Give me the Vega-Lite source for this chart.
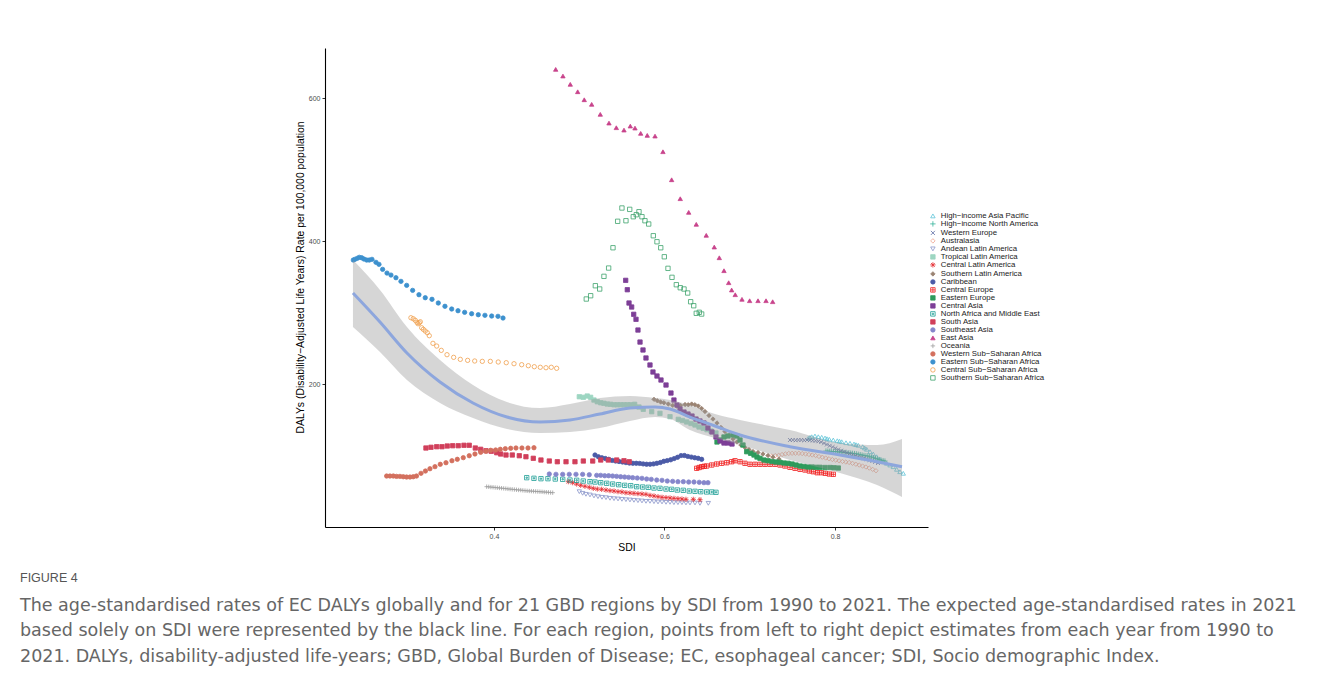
{
"$schema":"https://vega.github.io/schema/vega-lite/v6.json",
"width":603,"height":479,
"autosize":{"type":"none"},
"padding":{"left":325,"top":48,"right":394,"bottom":153},
"background":"white",
"config":{
 "view":{"stroke":null},
 "font":"Liberation Sans",
 "axis":{"grid":false,"domainColor":"#000","domainWidth":1.1,"tickColor":"#333","tickSize":3,"tickWidth":1,"labelFontSize":7,"labelColor":"#4D4D4D","labelFont":"Liberation Sans","titleFont":"Liberation Sans","titleFontSize":10.4,"titleFontWeight":"normal","titleColor":"#000","labelPadding":2},
 "legend":{"orient":"none","legendX":604,"legendY":164,"labelFontSize":7.8,"labelColor":"#1a1a1a","labelFont":"Liberation Sans","symbolStrokeWidth":0.8,"symbolSize":20,"rowPadding":-1.2,"padding":0,"labelOffset":4,"labelLimit":300}
},
"title":{"text":"FIGURE 4","subtitle":["The age-standardised rates of EC DALYs globally and for 21 GBD regions by SDI from 1990 to 2021. The expected age-standardised rates in 2021","based solely on SDI were represented by the black line. For each region, points from left to right depict estimates from each year from 1990 to","2021. DALYs, disability-adjusted life-years; GBD, Global Burden of Disease; EC, esophageal cancer; SDI, Socio demographic Index."],"orient":"bottom","anchor":"start","frame":"group","dx":-305,"offset":20,"fontSize":12.5,"font":"Liberation Sans","fontWeight":"normal","color":"#555555","subtitleFont":"DejaVu Sans","subtitleFontSize":17.5,"subtitleColor":"#666666","subtitleLineHeight":25.5,"subtitlePadding":12},
"datasets":{
"smooth":[
{"sdi":0.2346,"fit":327.3,"lo":279.7,"hi":373.4},
{"sdi":0.2663,"fit":286.7,"lo":244.8,"hi":331.5},
{"sdi":0.2979,"fit":243.4,"lo":205.6,"hi":279.7},
{"sdi":0.3367,"fit":202.8,"lo":173.4,"hi":233.6},
{"sdi":0.3754,"fit":173.4,"lo":152.4,"hi":198.6},
{"sdi":0.4152,"fit":153.8,"lo":137.1,"hi":174.8},
{"sdi":0.454,"fit":146.9,"lo":131.5,"hi":166.4},
{"sdi":0.4892,"fit":149.7,"lo":132.9,"hi":172.0},
{"sdi":0.5243,"fit":158.0,"lo":138.5,"hi":180.4},
{"sdi":0.5595,"fit":166.4,"lo":148.3,"hi":183.2},
{"sdi":0.5889,"fit":167.8,"lo":153.8,"hi":180.4},
{"sdi":0.6065,"fit":165.0,"lo":151.0,"hi":177.6},
{"sdi":0.6299,"fit":153.8,"lo":135.7,"hi":170.6},
{"sdi":0.6592,"fit":141.3,"lo":124.5,"hi":158.0},
{"sdi":0.6886,"fit":128.7,"lo":114.7,"hi":149.7},
{"sdi":0.7472,"fit":112.3,"lo":93.7,"hi":135.7},
{"sdi":0.8059,"fit":100.7,"lo":75.5,"hi":117.5},
{"sdi":0.8493,"fit":91.3,"lo":58.7,"hi":114.7},
{"sdi":0.8786,"fit":84.3,"lo":42.0,"hi":123.1}
],
"pts":[
{"region":"High−income Asia Pacific","sdi":0.7687,"rate":124.1},{"region":"High−income Asia Pacific","sdi":0.7707,"rate":125.2},{"region":"High−income Asia Pacific","sdi":0.7727,"rate":126.3},{"region":"High−income Asia Pacific","sdi":0.7765,"rate":127.3},{"region":"High−income Asia Pacific","sdi":0.7804,"rate":126.3},{"region":"High−income Asia Pacific","sdi":0.7844,"rate":125.5},{"region":"High−income Asia Pacific","sdi":0.7883,"rate":124.5},{"region":"High−income Asia Pacific","sdi":0.7906,"rate":123.5},{"region":"High−income Asia Pacific","sdi":0.7933,"rate":122.7},{"region":"High−income Asia Pacific","sdi":0.798,"rate":121.7},{"region":"High−income Asia Pacific","sdi":0.8027,"rate":120.7},{"region":"High−income Asia Pacific","sdi":0.8053,"rate":120.0},{"region":"High−income Asia Pacific","sdi":0.8079,"rate":119.3},{"region":"High−income Asia Pacific","sdi":0.8129,"rate":117.9},{"region":"High−income Asia Pacific","sdi":0.8176,"rate":117.1},{"region":"High−income Asia Pacific","sdi":0.8223,"rate":116.1},{"region":"High−income Asia Pacific","sdi":0.8246,"rate":115.2},{"region":"High−income Asia Pacific","sdi":0.8273,"rate":114.3},{"region":"High−income Asia Pacific","sdi":0.8325,"rate":112.3},{"region":"High−income Asia Pacific","sdi":0.8348,"rate":110.5},{"region":"High−income Asia Pacific","sdi":0.8372,"rate":108.7},{"region":"High−income Asia Pacific","sdi":0.8411,"rate":105.3},{"region":"High−income Asia Pacific","sdi":0.8449,"rate":102.1},{"region":"High−income Asia Pacific","sdi":0.8489,"rate":98.3},{"region":"High−income Asia Pacific","sdi":0.8528,"rate":94.7},{"region":"High−income Asia Pacific","sdi":0.8567,"rate":91.3},{"region":"High−income Asia Pacific","sdi":0.8606,"rate":89.1},{"region":"High−income Asia Pacific","sdi":0.8645,"rate":86.7},{"region":"High−income Asia Pacific","sdi":0.8684,"rate":84.3},{"region":"High−income Asia Pacific","sdi":0.8724,"rate":80.7},{"region":"High−income Asia Pacific","sdi":0.8762,"rate":77.3},{"region":"High−income Asia Pacific","sdi":0.8801,"rate":75.1},
{"region":"High−income North America","sdi":0.7894,"rate":106.3},{"region":"High−income North America","sdi":0.7916,"rate":106.1},{"region":"High−income North America","sdi":0.7938,"rate":106.0},{"region":"High−income North America","sdi":0.7961,"rate":105.7},{"region":"High−income North America","sdi":0.7983,"rate":105.6},{"region":"High−income North America","sdi":0.8006,"rate":105.4},{"region":"High−income North America","sdi":0.8028,"rate":105.2},{"region":"High−income North America","sdi":0.805,"rate":105.0},{"region":"High−income North America","sdi":0.8073,"rate":104.8},{"region":"High−income North America","sdi":0.8095,"rate":104.5},{"region":"High−income North America","sdi":0.8117,"rate":104.2},{"region":"High−income North America","sdi":0.8139,"rate":103.9},{"region":"High−income North America","sdi":0.8162,"rate":103.6},{"region":"High−income North America","sdi":0.8184,"rate":103.4},{"region":"High−income North America","sdi":0.8206,"rate":103.1},{"region":"High−income North America","sdi":0.8229,"rate":102.8},{"region":"High−income North America","sdi":0.8251,"rate":102.4},{"region":"High−income North America","sdi":0.8273,"rate":101.8},{"region":"High−income North America","sdi":0.8296,"rate":101.3},{"region":"High−income North America","sdi":0.8318,"rate":100.7},{"region":"High−income North America","sdi":0.834,"rate":100.1},{"region":"High−income North America","sdi":0.8363,"rate":99.7},{"region":"High−income North America","sdi":0.8385,"rate":99.3},{"region":"High−income North America","sdi":0.8407,"rate":98.5},{"region":"High−income North America","sdi":0.843,"rate":97.6},{"region":"High−income North America","sdi":0.8452,"rate":96.9},{"region":"High−income North America","sdi":0.8474,"rate":96.1},{"region":"High−income North America","sdi":0.8497,"rate":95.2},{"region":"High−income North America","sdi":0.8519,"rate":94.4},{"region":"High−income North America","sdi":0.8541,"rate":93.6},{"region":"High−income North America","sdi":0.8564,"rate":92.9},{"region":"High−income North America","sdi":0.8586,"rate":92.3},
{"region":"Western Europe","sdi":0.7472,"rate":121.7},{"region":"Western Europe","sdi":0.7505,"rate":121.7},{"region":"Western Europe","sdi":0.7539,"rate":121.3},{"region":"Western Europe","sdi":0.7572,"rate":121.7},{"region":"Western Europe","sdi":0.7605,"rate":121.7},{"region":"Western Europe","sdi":0.7639,"rate":121.3},{"region":"Western Europe","sdi":0.7672,"rate":121.7},{"region":"Western Europe","sdi":0.7705,"rate":121.3},{"region":"Western Europe","sdi":0.7739,"rate":121.0},{"region":"Western Europe","sdi":0.7772,"rate":120.6},{"region":"Western Europe","sdi":0.7805,"rate":119.9},{"region":"Western Europe","sdi":0.7838,"rate":118.9},{"region":"Western Europe","sdi":0.7872,"rate":117.1},{"region":"Western Europe","sdi":0.7905,"rate":115.4},{"region":"Western Europe","sdi":0.7938,"rate":113.6},{"region":"Western Europe","sdi":0.7972,"rate":111.9},{"region":"Western Europe","sdi":0.8005,"rate":110.1},{"region":"Western Europe","sdi":0.8038,"rate":108.4},{"region":"Western Europe","sdi":0.8072,"rate":106.7},{"region":"Western Europe","sdi":0.8105,"rate":105.3},{"region":"Western Europe","sdi":0.8138,"rate":103.9},{"region":"Western Europe","sdi":0.8171,"rate":102.4},{"region":"Western Europe","sdi":0.8205,"rate":101.0},{"region":"Western Europe","sdi":0.8238,"rate":99.6},{"region":"Western Europe","sdi":0.8271,"rate":98.3},{"region":"Western Europe","sdi":0.8305,"rate":97.2},{"region":"Western Europe","sdi":0.8338,"rate":96.1},{"region":"Western Europe","sdi":0.8371,"rate":95.0},{"region":"Western Europe","sdi":0.8404,"rate":93.8},{"region":"Western Europe","sdi":0.8438,"rate":92.6},{"region":"Western Europe","sdi":0.8471,"rate":91.0},{"region":"Western Europe","sdi":0.8504,"rate":89.5},
{"region":"Australasia","sdi":0.7261,"rate":99.3},{"region":"Australasia","sdi":0.73,"rate":99.9},{"region":"Australasia","sdi":0.734,"rate":100.3},{"region":"Australasia","sdi":0.7379,"rate":101.4},{"region":"Australasia","sdi":0.7418,"rate":102.2},{"region":"Australasia","sdi":0.7458,"rate":102.9},{"region":"Australasia","sdi":0.7497,"rate":103.1},{"region":"Australasia","sdi":0.7536,"rate":103.1},{"region":"Australasia","sdi":0.7576,"rate":103.1},{"region":"Australasia","sdi":0.7615,"rate":102.7},{"region":"Australasia","sdi":0.7655,"rate":102.1},{"region":"Australasia","sdi":0.7694,"rate":101.4},{"region":"Australasia","sdi":0.7733,"rate":100.7},{"region":"Australasia","sdi":0.7773,"rate":99.9},{"region":"Australasia","sdi":0.7812,"rate":98.6},{"region":"Australasia","sdi":0.7851,"rate":97.6},{"region":"Australasia","sdi":0.7891,"rate":96.5},{"region":"Australasia","sdi":0.793,"rate":95.4},{"region":"Australasia","sdi":0.7969,"rate":94.4},{"region":"Australasia","sdi":0.8009,"rate":93.6},{"region":"Australasia","sdi":0.8048,"rate":92.6},{"region":"Australasia","sdi":0.8087,"rate":91.7},{"region":"Australasia","sdi":0.8127,"rate":90.9},{"region":"Australasia","sdi":0.8166,"rate":90.2},{"region":"Australasia","sdi":0.8205,"rate":89.1},{"region":"Australasia","sdi":0.8245,"rate":87.8},{"region":"Australasia","sdi":0.8284,"rate":86.6},{"region":"Australasia","sdi":0.8323,"rate":85.3},{"region":"Australasia","sdi":0.8363,"rate":83.9},{"region":"Australasia","sdi":0.8402,"rate":82.4},{"region":"Australasia","sdi":0.8442,"rate":80.6},{"region":"Australasia","sdi":0.8481,"rate":78.7},
{"region":"Andean Latin America","sdi":0.5001,"rate":49.4},{"region":"Andean Latin America","sdi":0.504,"rate":47.1},{"region":"Andean Latin America","sdi":0.5079,"rate":45.7},{"region":"Andean Latin America","sdi":0.5126,"rate":44.8},{"region":"Andean Latin America","sdi":0.5173,"rate":43.4},{"region":"Andean Latin America","sdi":0.522,"rate":42.4},{"region":"Andean Latin America","sdi":0.5267,"rate":41.5},{"region":"Andean Latin America","sdi":0.5314,"rate":41.0},{"region":"Andean Latin America","sdi":0.5361,"rate":40.1},{"region":"Andean Latin America","sdi":0.5408,"rate":39.6},{"region":"Andean Latin America","sdi":0.5455,"rate":39.2},{"region":"Andean Latin America","sdi":0.5501,"rate":38.7},{"region":"Andean Latin America","sdi":0.5548,"rate":38.2},{"region":"Andean Latin America","sdi":0.5595,"rate":37.8},{"region":"Andean Latin America","sdi":0.5642,"rate":37.3},{"region":"Andean Latin America","sdi":0.5689,"rate":36.8},{"region":"Andean Latin America","sdi":0.5736,"rate":36.4},{"region":"Andean Latin America","sdi":0.5783,"rate":35.9},{"region":"Andean Latin America","sdi":0.583,"rate":35.9},{"region":"Andean Latin America","sdi":0.5877,"rate":35.4},{"region":"Andean Latin America","sdi":0.5924,"rate":35.0},{"region":"Andean Latin America","sdi":0.5971,"rate":35.0},{"region":"Andean Latin America","sdi":0.6018,"rate":34.5},{"region":"Andean Latin America","sdi":0.6065,"rate":34.5},{"region":"Andean Latin America","sdi":0.6111,"rate":34.0},{"region":"Andean Latin America","sdi":0.6158,"rate":34.0},{"region":"Andean Latin America","sdi":0.6205,"rate":34.0},{"region":"Andean Latin America","sdi":0.6252,"rate":33.6},{"region":"Andean Latin America","sdi":0.6299,"rate":33.6},{"region":"Andean Latin America","sdi":0.6358,"rate":33.6},{"region":"Andean Latin America","sdi":0.6416,"rate":33.1},{"region":"Andean Latin America","sdi":0.6514,"rate":33.1},
{"region":"Tropical Latin America","sdi":0.5001,"rate":182.2},{"region":"Tropical Latin America","sdi":0.5048,"rate":181.4},{"region":"Tropical Latin America","sdi":0.5094,"rate":183.2},{"region":"Tropical Latin America","sdi":0.5134,"rate":181.4},{"region":"Tropical Latin America","sdi":0.5173,"rate":177.6},{"region":"Tropical Latin America","sdi":0.5212,"rate":175.2},{"region":"Tropical Latin America","sdi":0.5252,"rate":173.8},{"region":"Tropical Latin America","sdi":0.529,"rate":173.0},{"region":"Tropical Latin America","sdi":0.5329,"rate":172.0},{"region":"Tropical Latin America","sdi":0.5369,"rate":171.6},{"region":"Tropical Latin America","sdi":0.5408,"rate":171.0},{"region":"Tropical Latin America","sdi":0.5446,"rate":171.0},{"region":"Tropical Latin America","sdi":0.5486,"rate":171.0},{"region":"Tropical Latin America","sdi":0.5525,"rate":171.0},{"region":"Tropical Latin America","sdi":0.5564,"rate":171.0},{"region":"Tropical Latin America","sdi":0.5604,"rate":171.0},{"region":"Tropical Latin America","sdi":0.565,"rate":171.6},{"region":"Tropical Latin America","sdi":0.5701,"rate":167.8},{"region":"Tropical Latin America","sdi":0.5751,"rate":164.6},{"region":"Tropical Latin America","sdi":0.585,"rate":161.3},{"region":"Tropical Latin America","sdi":0.5947,"rate":159.0},{"region":"Tropical Latin America","sdi":0.6065,"rate":154.3},{"region":"Tropical Latin America","sdi":0.6162,"rate":150.6},{"region":"Tropical Latin America","sdi":0.6211,"rate":149.0},{"region":"Tropical Latin America","sdi":0.626,"rate":146.9},{"region":"Tropical Latin America","sdi":0.6311,"rate":144.8},{"region":"Tropical Latin America","sdi":0.6358,"rate":142.7},{"region":"Tropical Latin America","sdi":0.6405,"rate":139.9},{"region":"Tropical Latin America","sdi":0.6455,"rate":138.0},{"region":"Tropical Latin America","sdi":0.6499,"rate":136.1},{"region":"Tropical Latin America","sdi":0.6545,"rate":134.3},{"region":"Tropical Latin America","sdi":0.6604,"rate":131.5},
{"region":"Central Latin America","sdi":0.4872,"rate":63.4},{"region":"Central Latin America","sdi":0.4923,"rate":62.0},{"region":"Central Latin America","sdi":0.497,"rate":60.1},{"region":"Central Latin America","sdi":0.5017,"rate":58.3},{"region":"Central Latin America","sdi":0.5067,"rate":56.9},{"region":"Central Latin America","sdi":0.5118,"rate":55.5},{"region":"Central Latin America","sdi":0.5165,"rate":54.1},{"region":"Central Latin America","sdi":0.5212,"rate":53.1},{"region":"Central Latin America","sdi":0.5263,"rate":52.7},{"region":"Central Latin America","sdi":0.5314,"rate":51.7},{"region":"Central Latin America","sdi":0.5361,"rate":50.8},{"region":"Central Latin America","sdi":0.5408,"rate":50.3},{"region":"Central Latin America","sdi":0.5455,"rate":49.4},{"region":"Central Latin America","sdi":0.5501,"rate":49.0},{"region":"Central Latin America","sdi":0.5548,"rate":48.0},{"region":"Central Latin America","sdi":0.5595,"rate":47.6},{"region":"Central Latin America","sdi":0.5642,"rate":47.1},{"region":"Central Latin America","sdi":0.5689,"rate":46.6},{"region":"Central Latin America","sdi":0.5736,"rate":46.2},{"region":"Central Latin America","sdi":0.5783,"rate":45.7},{"region":"Central Latin America","sdi":0.583,"rate":44.3},{"region":"Central Latin America","sdi":0.5877,"rate":43.4},{"region":"Central Latin America","sdi":0.5924,"rate":42.4},{"region":"Central Latin America","sdi":0.5971,"rate":41.5},{"region":"Central Latin America","sdi":0.6018,"rate":41.1},{"region":"Central Latin America","sdi":0.6065,"rate":40.6},{"region":"Central Latin America","sdi":0.6111,"rate":40.1},{"region":"Central Latin America","sdi":0.6158,"rate":39.6},{"region":"Central Latin America","sdi":0.6205,"rate":39.2},{"region":"Central Latin America","sdi":0.6252,"rate":38.7},{"region":"Central Latin America","sdi":0.6338,"rate":38.7},{"region":"Central Latin America","sdi":0.6416,"rate":38.2},
{"region":"Southern Latin America","sdi":0.5877,"rate":178.6},{"region":"Southern Latin America","sdi":0.5916,"rate":176.6},{"region":"Southern Latin America","sdi":0.5955,"rate":174.8},{"region":"Southern Latin America","sdi":0.5994,"rate":173.8},{"region":"Southern Latin America","sdi":0.6045,"rate":172.0},{"region":"Southern Latin America","sdi":0.6096,"rate":170.2},{"region":"Southern Latin America","sdi":0.6143,"rate":169.2},{"region":"Southern Latin America","sdi":0.619,"rate":169.9},{"region":"Southern Latin America","sdi":0.6241,"rate":171.3},{"region":"Southern Latin America","sdi":0.6279,"rate":171.0},{"region":"Southern Latin America","sdi":0.6319,"rate":172.0},{"region":"Southern Latin America","sdi":0.6358,"rate":171.0},{"region":"Southern Latin America","sdi":0.6397,"rate":169.2},{"region":"Southern Latin America","sdi":0.6436,"rate":165.7},{"region":"Southern Latin America","sdi":0.6475,"rate":161.5},{"region":"Southern Latin America","sdi":0.6522,"rate":155.9},{"region":"Southern Latin America","sdi":0.6569,"rate":151.0},{"region":"Southern Latin America","sdi":0.6616,"rate":145.5},{"region":"Southern Latin America","sdi":0.6663,"rate":139.2},{"region":"Southern Latin America","sdi":0.671,"rate":133.5},{"region":"Southern Latin America","sdi":0.6757,"rate":128.0},{"region":"Southern Latin America","sdi":0.6804,"rate":123.1},{"region":"Southern Latin America","sdi":0.685,"rate":118.9},{"region":"Southern Latin America","sdi":0.6897,"rate":114.7},{"region":"Southern Latin America","sdi":0.6944,"rate":111.2},{"region":"Southern Latin America","sdi":0.6991,"rate":108.4},{"region":"Southern Latin America","sdi":0.7038,"rate":105.6},{"region":"Southern Latin America","sdi":0.7097,"rate":104.2},{"region":"Southern Latin America","sdi":0.7155,"rate":102.1},{"region":"Southern Latin America","sdi":0.7214,"rate":100.0},{"region":"Southern Latin America","sdi":0.7273,"rate":97.9},{"region":"Southern Latin America","sdi":0.7343,"rate":95.1},
{"region":"Caribbean","sdi":0.5185,"rate":100.7},{"region":"Caribbean","sdi":0.5225,"rate":98.2},{"region":"Caribbean","sdi":0.5266,"rate":96.8},{"region":"Caribbean","sdi":0.5306,"rate":95.8},{"region":"Caribbean","sdi":0.5346,"rate":94.7},{"region":"Caribbean","sdi":0.5387,"rate":93.1},{"region":"Caribbean","sdi":0.5427,"rate":92.3},{"region":"Caribbean","sdi":0.5467,"rate":91.6},{"region":"Caribbean","sdi":0.5508,"rate":90.9},{"region":"Caribbean","sdi":0.5548,"rate":90.1},{"region":"Caribbean","sdi":0.5589,"rate":89.4},{"region":"Caribbean","sdi":0.5629,"rate":89.1},{"region":"Caribbean","sdi":0.5669,"rate":89.1},{"region":"Caribbean","sdi":0.571,"rate":88.9},{"region":"Caribbean","sdi":0.575,"rate":88.2},{"region":"Caribbean","sdi":0.579,"rate":87.8},{"region":"Caribbean","sdi":0.5831,"rate":87.8},{"region":"Caribbean","sdi":0.5871,"rate":88.2},{"region":"Caribbean","sdi":0.5911,"rate":89.1},{"region":"Caribbean","sdi":0.5952,"rate":90.2},{"region":"Caribbean","sdi":0.5992,"rate":91.9},{"region":"Caribbean","sdi":0.6032,"rate":92.9},{"region":"Caribbean","sdi":0.6073,"rate":94.0},{"region":"Caribbean","sdi":0.6113,"rate":95.7},{"region":"Caribbean","sdi":0.6153,"rate":97.5},{"region":"Caribbean","sdi":0.6194,"rate":99.9},{"region":"Caribbean","sdi":0.6234,"rate":100.0},{"region":"Caribbean","sdi":0.6274,"rate":98.7},{"region":"Caribbean","sdi":0.6315,"rate":97.8},{"region":"Caribbean","sdi":0.6355,"rate":96.9},{"region":"Caribbean","sdi":0.6395,"rate":96.1},{"region":"Caribbean","sdi":0.6436,"rate":94.7},
{"region":"Central Europe","sdi":0.6378,"rate":82.1},{"region":"Central Europe","sdi":0.6407,"rate":83.2},{"region":"Central Europe","sdi":0.6436,"rate":84.3},{"region":"Central Europe","sdi":0.6466,"rate":84.9},{"region":"Central Europe","sdi":0.6495,"rate":85.3},{"region":"Central Europe","sdi":0.6554,"rate":86.7},{"region":"Central Europe","sdi":0.6612,"rate":88.1},{"region":"Central Europe","sdi":0.6671,"rate":89.1},{"region":"Central Europe","sdi":0.673,"rate":89.9},{"region":"Central Europe","sdi":0.6788,"rate":91.3},{"region":"Central Europe","sdi":0.6827,"rate":92.7},{"region":"Central Europe","sdi":0.6886,"rate":91.3},{"region":"Central Europe","sdi":0.6944,"rate":89.1},{"region":"Central Europe","sdi":0.7003,"rate":87.7},{"region":"Central Europe","sdi":0.7062,"rate":87.7},{"region":"Central Europe","sdi":0.712,"rate":87.7},{"region":"Central Europe","sdi":0.7179,"rate":87.7},{"region":"Central Europe","sdi":0.7238,"rate":87.7},{"region":"Central Europe","sdi":0.7296,"rate":87.7},{"region":"Central Europe","sdi":0.7355,"rate":86.7},{"region":"Central Europe","sdi":0.7413,"rate":85.3},{"region":"Central Europe","sdi":0.7472,"rate":83.5},{"region":"Central Europe","sdi":0.7531,"rate":82.1},{"region":"Central Europe","sdi":0.759,"rate":80.7},{"region":"Central Europe","sdi":0.7648,"rate":79.7},{"region":"Central Europe","sdi":0.7699,"rate":78.3},{"region":"Central Europe","sdi":0.7745,"rate":77.3},{"region":"Central Europe","sdi":0.7792,"rate":75.9},{"region":"Central Europe","sdi":0.7839,"rate":75.9},{"region":"Central Europe","sdi":0.7886,"rate":75.1},{"region":"Central Europe","sdi":0.7933,"rate":74.1},{"region":"Central Europe","sdi":0.798,"rate":73.7},
{"region":"Eastern Europe","sdi":0.6616,"rate":118.9},{"region":"Eastern Europe","sdi":0.6651,"rate":121.7},{"region":"Eastern Europe","sdi":0.6698,"rate":125.9},{"region":"Eastern Europe","sdi":0.6745,"rate":127.3},{"region":"Eastern Europe","sdi":0.6804,"rate":128.7},{"region":"Eastern Europe","sdi":0.685,"rate":127.3},{"region":"Eastern Europe","sdi":0.6886,"rate":121.7},{"region":"Eastern Europe","sdi":0.6921,"rate":114.7},{"region":"Eastern Europe","sdi":0.6964,"rate":105.3},{"region":"Eastern Europe","sdi":0.7011,"rate":103.1},{"region":"Eastern Europe","sdi":0.705,"rate":100.7},{"region":"Eastern Europe","sdi":0.7085,"rate":97.9},{"region":"Eastern Europe","sdi":0.712,"rate":96.1},{"region":"Eastern Europe","sdi":0.7167,"rate":93.7},{"region":"Eastern Europe","sdi":0.7214,"rate":92.7},{"region":"Eastern Europe","sdi":0.7261,"rate":91.6},{"region":"Eastern Europe","sdi":0.7308,"rate":90.9},{"region":"Eastern Europe","sdi":0.7355,"rate":90.5},{"region":"Eastern Europe","sdi":0.7402,"rate":89.5},{"region":"Eastern Europe","sdi":0.7449,"rate":89.1},{"region":"Eastern Europe","sdi":0.7496,"rate":88.1},{"region":"Eastern Europe","sdi":0.7543,"rate":86.7},{"region":"Eastern Europe","sdi":0.759,"rate":85.3},{"region":"Eastern Europe","sdi":0.7636,"rate":84.6},{"region":"Eastern Europe","sdi":0.7683,"rate":83.9},{"region":"Eastern Europe","sdi":0.773,"rate":83.9},{"region":"Eastern Europe","sdi":0.7777,"rate":83.5},{"region":"Eastern Europe","sdi":0.7824,"rate":83.5},{"region":"Eastern Europe","sdi":0.7883,"rate":83.2},{"region":"Eastern Europe","sdi":0.7941,"rate":83.2},{"region":"Eastern Europe","sdi":0.7988,"rate":82.9},{"region":"Eastern Europe","sdi":0.8039,"rate":82.5},
{"region":"Central Asia","sdi":0.5545,"rate":345.0},{"region":"Central Asia","sdi":0.5564,"rate":331.9},{"region":"Central Asia","sdi":0.5584,"rate":313.3},{"region":"Central Asia","sdi":0.5615,"rate":307.7},{"region":"Central Asia","sdi":0.5639,"rate":297.5},{"region":"Central Asia","sdi":0.5666,"rate":290.5},{"region":"Central Asia","sdi":0.5689,"rate":275.5},{"region":"Central Asia","sdi":0.5713,"rate":258.7},{"region":"Central Asia","sdi":0.5748,"rate":247.6},{"region":"Central Asia","sdi":0.5783,"rate":236.4},{"region":"Central Asia","sdi":0.583,"rate":226.6},{"region":"Central Asia","sdi":0.5865,"rate":216.8},{"region":"Central Asia","sdi":0.5912,"rate":211.2},{"region":"Central Asia","sdi":0.5959,"rate":205.6},{"region":"Central Asia","sdi":0.6018,"rate":198.6},{"region":"Central Asia","sdi":0.6076,"rate":187.4},{"region":"Central Asia","sdi":0.6111,"rate":177.6},{"region":"Central Asia","sdi":0.6147,"rate":170.6},{"region":"Central Asia","sdi":0.6182,"rate":165.0},{"region":"Central Asia","sdi":0.6229,"rate":160.8},{"region":"Central Asia","sdi":0.6276,"rate":158.0},{"region":"Central Asia","sdi":0.6323,"rate":155.2},{"region":"Central Asia","sdi":0.637,"rate":151.0},{"region":"Central Asia","sdi":0.6416,"rate":148.3},{"region":"Central Asia","sdi":0.6463,"rate":145.5},{"region":"Central Asia","sdi":0.651,"rate":138.5},{"region":"Central Asia","sdi":0.6557,"rate":132.9},{"region":"Central Asia","sdi":0.6604,"rate":125.9},{"region":"Central Asia","sdi":0.6651,"rate":120.3},{"region":"Central Asia","sdi":0.6698,"rate":117.5},{"region":"Central Asia","sdi":0.6745,"rate":117.5},{"region":"Central Asia","sdi":0.6792,"rate":116.1},
{"region":"North Africa and Middle East","sdi":0.4384,"rate":69.0},{"region":"North Africa and Middle East","sdi":0.4469,"rate":68.1},{"region":"North Africa and Middle East","sdi":0.4551,"rate":67.6},{"region":"North Africa and Middle East","sdi":0.4633,"rate":67.6},{"region":"North Africa and Middle East","sdi":0.4719,"rate":67.1},{"region":"North Africa and Middle East","sdi":0.4806,"rate":66.7},{"region":"North Africa and Middle East","sdi":0.4891,"rate":65.7},{"region":"North Africa and Middle East","sdi":0.497,"rate":65.3},{"region":"North Africa and Middle East","sdi":0.5047,"rate":64.3},{"region":"North Africa and Middle East","sdi":0.5126,"rate":63.4},{"region":"North Africa and Middle East","sdi":0.5185,"rate":62.9},{"region":"North Africa and Middle East","sdi":0.5252,"rate":62.0},{"region":"North Africa and Middle East","sdi":0.5322,"rate":61.1},{"region":"North Africa and Middle East","sdi":0.5392,"rate":60.1},{"region":"North Africa and Middle East","sdi":0.5463,"rate":59.2},{"region":"North Africa and Middle East","sdi":0.5533,"rate":58.3},{"region":"North Africa and Middle East","sdi":0.5604,"rate":57.8},{"region":"North Africa and Middle East","sdi":0.5674,"rate":56.4},{"region":"North Africa and Middle East","sdi":0.5744,"rate":55.9},{"region":"North Africa and Middle East","sdi":0.581,"rate":55.5},{"region":"North Africa and Middle East","sdi":0.5877,"rate":54.5},{"region":"North Africa and Middle East","sdi":0.5947,"rate":54.1},{"region":"North Africa and Middle East","sdi":0.6018,"rate":53.1},{"region":"North Africa and Middle East","sdi":0.6084,"rate":52.7},{"region":"North Africa and Middle East","sdi":0.615,"rate":51.7},{"region":"North Africa and Middle East","sdi":0.622,"rate":51.3},{"region":"North Africa and Middle East","sdi":0.6291,"rate":50.3},{"region":"North Africa and Middle East","sdi":0.6358,"rate":49.9},{"region":"North Africa and Middle East","sdi":0.6425,"rate":49.4},{"region":"North Africa and Middle East","sdi":0.6495,"rate":49.0},{"region":"North Africa and Middle East","sdi":0.6554,"rate":49.0},{"region":"North Africa and Middle East","sdi":0.6604,"rate":48.5},
{"region":"South Asia","sdi":0.3202,"rate":110.5},{"region":"South Asia","sdi":0.3261,"rate":111.5},{"region":"South Asia","sdi":0.3328,"rate":112.3},{"region":"South Asia","sdi":0.339,"rate":112.3},{"region":"South Asia","sdi":0.3452,"rate":113.3},{"region":"South Asia","sdi":0.3516,"rate":113.7},{"region":"South Asia","sdi":0.3581,"rate":113.7},{"region":"South Asia","sdi":0.3648,"rate":114.3},{"region":"South Asia","sdi":0.371,"rate":114.3},{"region":"South Asia","sdi":0.3781,"rate":110.5},{"region":"South Asia","sdi":0.3844,"rate":108.7},{"region":"South Asia","sdi":0.3906,"rate":106.7},{"region":"South Asia","sdi":0.3968,"rate":105.9},{"region":"South Asia","sdi":0.4032,"rate":103.9},{"region":"South Asia","sdi":0.4079,"rate":102.1},{"region":"South Asia","sdi":0.4141,"rate":100.7},{"region":"South Asia","sdi":0.4215,"rate":100.7},{"region":"South Asia","sdi":0.4297,"rate":99.7},{"region":"South Asia","sdi":0.4375,"rate":98.3},{"region":"South Asia","sdi":0.4461,"rate":96.1},{"region":"South Asia","sdi":0.4551,"rate":93.7},{"region":"South Asia","sdi":0.4649,"rate":92.3},{"region":"South Asia","sdi":0.4743,"rate":91.3},{"region":"South Asia","sdi":0.4845,"rate":91.3},{"region":"South Asia","sdi":0.495,"rate":91.3},{"region":"South Asia","sdi":0.5048,"rate":92.3},{"region":"South Asia","sdi":0.5158,"rate":92.3},{"region":"South Asia","sdi":0.5252,"rate":93.7},{"region":"South Asia","sdi":0.5341,"rate":93.7},{"region":"South Asia","sdi":0.5439,"rate":93.7},{"region":"South Asia","sdi":0.5525,"rate":92.7},{"region":"South Asia","sdi":0.5587,"rate":91.3},
{"region":"Southeast Asia","sdi":0.4649,"rate":74.1},{"region":"Southeast Asia","sdi":0.4727,"rate":73.7},{"region":"Southeast Asia","sdi":0.4806,"rate":73.7},{"region":"Southeast Asia","sdi":0.4883,"rate":73.7},{"region":"Southeast Asia","sdi":0.4962,"rate":73.7},{"region":"Southeast Asia","sdi":0.504,"rate":73.7},{"region":"Southeast Asia","sdi":0.5118,"rate":73.1},{"region":"Southeast Asia","sdi":0.5205,"rate":72.3},{"region":"Southeast Asia","sdi":0.5252,"rate":72.3},{"region":"Southeast Asia","sdi":0.5299,"rate":71.7},{"region":"Southeast Asia","sdi":0.5345,"rate":71.7},{"region":"Southeast Asia","sdi":0.5392,"rate":71.3},{"region":"Southeast Asia","sdi":0.5439,"rate":70.9},{"region":"Southeast Asia","sdi":0.5486,"rate":70.3},{"region":"Southeast Asia","sdi":0.5533,"rate":69.9},{"region":"Southeast Asia","sdi":0.558,"rate":69.5},{"region":"Southeast Asia","sdi":0.5627,"rate":69.0},{"region":"Southeast Asia","sdi":0.5681,"rate":68.5},{"region":"Southeast Asia","sdi":0.5736,"rate":68.1},{"region":"Southeast Asia","sdi":0.5791,"rate":67.1},{"region":"Southeast Asia","sdi":0.5845,"rate":66.7},{"region":"Southeast Asia","sdi":0.5909,"rate":65.7},{"region":"Southeast Asia","sdi":0.5971,"rate":65.3},{"region":"Southeast Asia","sdi":0.6033,"rate":64.3},{"region":"Southeast Asia","sdi":0.6096,"rate":63.9},{"region":"Southeast Asia","sdi":0.6158,"rate":63.4},{"region":"Southeast Asia","sdi":0.6221,"rate":63.4},{"region":"Southeast Asia","sdi":0.6284,"rate":62.9},{"region":"Southeast Asia","sdi":0.6346,"rate":62.9},{"region":"Southeast Asia","sdi":0.6408,"rate":62.5},{"region":"Southeast Asia","sdi":0.6463,"rate":62.0},{"region":"Southeast Asia","sdi":0.651,"rate":62.0},
{"region":"East Asia","sdi":0.4724,"rate":640.1},{"region":"East Asia","sdi":0.4809,"rate":630.8},{"region":"East Asia","sdi":0.4895,"rate":619.2},{"region":"East Asia","sdi":0.4982,"rate":608.8},{"region":"East Asia","sdi":0.5059,"rate":597.6},{"region":"East Asia","sdi":0.5146,"rate":591.2},{"region":"East Asia","sdi":0.5247,"rate":577.2},{"region":"East Asia","sdi":0.5349,"rate":565.0},{"region":"East Asia","sdi":0.5435,"rate":558.5},{"region":"East Asia","sdi":0.5525,"rate":555.2},{"region":"East Asia","sdi":0.5599,"rate":560.8},{"region":"East Asia","sdi":0.5654,"rate":558.0},{"region":"East Asia","sdi":0.5721,"rate":550.6},{"region":"East Asia","sdi":0.5798,"rate":547.8},{"region":"East Asia","sdi":0.5889,"rate":546.8},{"region":"East Asia","sdi":0.5982,"rate":524.9},{"region":"East Asia","sdi":0.6084,"rate":485.7},{"region":"East Asia","sdi":0.6185,"rate":459.2},{"region":"East Asia","sdi":0.6284,"rate":440.1},{"region":"East Asia","sdi":0.6373,"rate":423.4},{"region":"East Asia","sdi":0.649,"rate":408.0},{"region":"East Asia","sdi":0.6584,"rate":391.6},{"region":"East Asia","sdi":0.6643,"rate":376.6},{"region":"East Asia","sdi":0.6698,"rate":358.5},{"region":"East Asia","sdi":0.6753,"rate":341.7},{"region":"East Asia","sdi":0.6788,"rate":331.5},{"region":"East Asia","sdi":0.683,"rate":324.9},{"region":"East Asia","sdi":0.6909,"rate":318.5},{"region":"East Asia","sdi":0.6999,"rate":316.5},{"region":"East Asia","sdi":0.7097,"rate":316.5},{"region":"East Asia","sdi":0.7191,"rate":316.5},{"region":"East Asia","sdi":0.7269,"rate":315.1},
{"region":"Oceania","sdi":0.3914,"rate":56.4},{"region":"Oceania","sdi":0.3939,"rate":56.2},{"region":"Oceania","sdi":0.3964,"rate":55.8},{"region":"Oceania","sdi":0.3989,"rate":55.6},{"region":"Oceania","sdi":0.4014,"rate":55.2},{"region":"Oceania","sdi":0.4039,"rate":54.9},{"region":"Oceania","sdi":0.4064,"rate":54.6},{"region":"Oceania","sdi":0.4089,"rate":54.3},{"region":"Oceania","sdi":0.4114,"rate":54.0},{"region":"Oceania","sdi":0.4139,"rate":53.7},{"region":"Oceania","sdi":0.4164,"rate":53.3},{"region":"Oceania","sdi":0.4189,"rate":53.0},{"region":"Oceania","sdi":0.4214,"rate":52.7},{"region":"Oceania","sdi":0.4239,"rate":52.4},{"region":"Oceania","sdi":0.4264,"rate":52.1},{"region":"Oceania","sdi":0.4289,"rate":51.8},{"region":"Oceania","sdi":0.4314,"rate":51.6},{"region":"Oceania","sdi":0.4339,"rate":51.2},{"region":"Oceania","sdi":0.4364,"rate":50.9},{"region":"Oceania","sdi":0.4389,"rate":50.6},{"region":"Oceania","sdi":0.4414,"rate":50.4},{"region":"Oceania","sdi":0.4439,"rate":50.2},{"region":"Oceania","sdi":0.4464,"rate":50.0},{"region":"Oceania","sdi":0.4489,"rate":49.8},{"region":"Oceania","sdi":0.4514,"rate":49.6},{"region":"Oceania","sdi":0.4539,"rate":49.4},{"region":"Oceania","sdi":0.4564,"rate":49.2},{"region":"Oceania","sdi":0.4589,"rate":48.9},{"region":"Oceania","sdi":0.4614,"rate":48.7},{"region":"Oceania","sdi":0.4639,"rate":48.5},{"region":"Oceania","sdi":0.4664,"rate":48.2},{"region":"Oceania","sdi":0.4689,"rate":48.0},
{"region":"Western Sub−Saharan Africa","sdi":0.2741,"rate":71.3},{"region":"Western Sub−Saharan Africa","sdi":0.278,"rate":71.3},{"region":"Western Sub−Saharan Africa","sdi":0.2819,"rate":71.3},{"region":"Western Sub−Saharan Africa","sdi":0.2857,"rate":70.8},{"region":"Western Sub−Saharan Africa","sdi":0.2897,"rate":70.8},{"region":"Western Sub−Saharan Africa","sdi":0.2936,"rate":70.3},{"region":"Western Sub−Saharan Africa","sdi":0.2975,"rate":69.9},{"region":"Western Sub−Saharan Africa","sdi":0.3015,"rate":69.9},{"region":"Western Sub−Saharan Africa","sdi":0.3053,"rate":70.3},{"region":"Western Sub−Saharan Africa","sdi":0.3091,"rate":71.3},{"region":"Western Sub−Saharan Africa","sdi":0.3144,"rate":75.1},{"region":"Western Sub−Saharan Africa","sdi":0.3196,"rate":78.3},{"region":"Western Sub−Saharan Africa","sdi":0.3249,"rate":81.5},{"region":"Western Sub−Saharan Africa","sdi":0.3308,"rate":84.4},{"region":"Western Sub−Saharan Africa","sdi":0.337,"rate":87.7},{"region":"Western Sub−Saharan Africa","sdi":0.3437,"rate":89.9},{"region":"Western Sub−Saharan Africa","sdi":0.3507,"rate":92.7},{"region":"Western Sub−Saharan Africa","sdi":0.357,"rate":94.7},{"region":"Western Sub−Saharan Africa","sdi":0.364,"rate":97.0},{"region":"Western Sub−Saharan Africa","sdi":0.371,"rate":99.7},{"region":"Western Sub−Saharan Africa","sdi":0.3777,"rate":102.1},{"region":"Western Sub−Saharan Africa","sdi":0.3844,"rate":104.5},{"region":"Western Sub−Saharan Africa","sdi":0.3906,"rate":105.9},{"region":"Western Sub−Saharan Africa","sdi":0.3961,"rate":107.3},{"region":"Western Sub−Saharan Africa","sdi":0.402,"rate":107.7},{"region":"Western Sub−Saharan Africa","sdi":0.4074,"rate":108.7},{"region":"Western Sub−Saharan Africa","sdi":0.4133,"rate":109.5},{"region":"Western Sub−Saharan Africa","sdi":0.4196,"rate":110.1},{"region":"Western Sub−Saharan Africa","sdi":0.4258,"rate":110.5},{"region":"Western Sub−Saharan Africa","sdi":0.4328,"rate":110.5},{"region":"Western Sub−Saharan Africa","sdi":0.4399,"rate":110.5},{"region":"Western Sub−Saharan Africa","sdi":0.4469,"rate":110.9},
{"region":"Eastern Sub−Saharan Africa","sdi":0.235,"rate":373.4},{"region":"Eastern Sub−Saharan Africa","sdi":0.2369,"rate":374.4},{"region":"Eastern Sub−Saharan Africa","sdi":0.2396,"rate":375.8},{"region":"Eastern Sub−Saharan Africa","sdi":0.242,"rate":377.2},{"region":"Eastern Sub−Saharan Africa","sdi":0.2448,"rate":376.6},{"region":"Eastern Sub−Saharan Africa","sdi":0.2475,"rate":374.8},{"region":"Eastern Sub−Saharan Africa","sdi":0.2507,"rate":373.4},{"region":"Eastern Sub−Saharan Africa","sdi":0.2537,"rate":373.4},{"region":"Eastern Sub−Saharan Africa","sdi":0.2569,"rate":374.4},{"region":"Eastern Sub−Saharan Africa","sdi":0.2616,"rate":370.2},{"region":"Eastern Sub−Saharan Africa","sdi":0.2651,"rate":367.4},{"region":"Eastern Sub−Saharan Africa","sdi":0.2694,"rate":360.4},{"region":"Eastern Sub−Saharan Africa","sdi":0.2745,"rate":355.2},{"region":"Eastern Sub−Saharan Africa","sdi":0.2792,"rate":352.4},{"region":"Eastern Sub−Saharan Africa","sdi":0.285,"rate":348.7},{"region":"Eastern Sub−Saharan Africa","sdi":0.2909,"rate":343.6},{"region":"Eastern Sub−Saharan Africa","sdi":0.2976,"rate":338.0},{"region":"Eastern Sub−Saharan Africa","sdi":0.3046,"rate":331.0},{"region":"Eastern Sub−Saharan Africa","sdi":0.312,"rate":324.9},{"region":"Eastern Sub−Saharan Africa","sdi":0.3194,"rate":320.7},{"region":"Eastern Sub−Saharan Africa","sdi":0.3273,"rate":318.5},{"region":"Eastern Sub−Saharan Africa","sdi":0.3347,"rate":313.3},{"region":"Eastern Sub−Saharan Africa","sdi":0.3425,"rate":308.7},{"region":"Eastern Sub−Saharan Africa","sdi":0.3504,"rate":304.9},{"region":"Eastern Sub−Saharan Africa","sdi":0.3578,"rate":302.5},{"region":"Eastern Sub−Saharan Africa","sdi":0.3656,"rate":300.3},{"region":"Eastern Sub−Saharan Africa","sdi":0.3738,"rate":298.3},{"region":"Eastern Sub−Saharan Africa","sdi":0.3816,"rate":296.9},{"region":"Eastern Sub−Saharan Africa","sdi":0.3894,"rate":296.1},{"region":"Eastern Sub−Saharan Africa","sdi":0.3973,"rate":295.1},{"region":"Eastern Sub−Saharan Africa","sdi":0.4047,"rate":294.7},{"region":"Eastern Sub−Saharan Africa","sdi":0.4106,"rate":292.3},
{"region":"Central Sub−Saharan Africa","sdi":0.3026,"rate":292.7},{"region":"Central Sub−Saharan Africa","sdi":0.3053,"rate":291.3},{"region":"Central Sub−Saharan Africa","sdi":0.3077,"rate":289.1},{"region":"Central Sub−Saharan Africa","sdi":0.3097,"rate":286.3},{"region":"Central Sub−Saharan Africa","sdi":0.3109,"rate":284.3},{"region":"Central Sub−Saharan Africa","sdi":0.3124,"rate":285.7},{"region":"Central Sub−Saharan Africa","sdi":0.3136,"rate":287.1},{"region":"Central Sub−Saharan Africa","sdi":0.3152,"rate":278.7},{"region":"Central Sub−Saharan Africa","sdi":0.3171,"rate":276.5},{"region":"Central Sub−Saharan Africa","sdi":0.3194,"rate":274.1},{"region":"Central Sub−Saharan Africa","sdi":0.3218,"rate":271.7},{"region":"Central Sub−Saharan Africa","sdi":0.3241,"rate":267.6},{"region":"Central Sub−Saharan Africa","sdi":0.3284,"rate":256.9},{"region":"Central Sub−Saharan Africa","sdi":0.3328,"rate":253.1},{"region":"Central Sub−Saharan Africa","sdi":0.3382,"rate":247.1},{"region":"Central Sub−Saharan Africa","sdi":0.3449,"rate":241.0},{"region":"Central Sub−Saharan Africa","sdi":0.3527,"rate":237.3},{"region":"Central Sub−Saharan Africa","sdi":0.3605,"rate":234.5},{"region":"Central Sub−Saharan Africa","sdi":0.3691,"rate":233.1},{"region":"Central Sub−Saharan Africa","sdi":0.3774,"rate":232.2},{"region":"Central Sub−Saharan Africa","sdi":0.3863,"rate":231.7},{"region":"Central Sub−Saharan Africa","sdi":0.3957,"rate":231.7},{"region":"Central Sub−Saharan Africa","sdi":0.405,"rate":230.8},{"region":"Central Sub−Saharan Africa","sdi":0.4144,"rate":229.8},{"region":"Central Sub−Saharan Africa","sdi":0.4235,"rate":228.4},{"region":"Central Sub−Saharan Africa","sdi":0.4325,"rate":227.0},{"region":"Central Sub−Saharan Africa","sdi":0.4403,"rate":225.6},{"region":"Central Sub−Saharan Africa","sdi":0.4473,"rate":224.2},{"region":"Central Sub−Saharan Africa","sdi":0.4543,"rate":223.4},{"region":"Central Sub−Saharan Africa","sdi":0.461,"rate":222.8},{"region":"Central Sub−Saharan Africa","sdi":0.4672,"rate":223.4},{"region":"Central Sub−Saharan Africa","sdi":0.4735,"rate":222.0},
{"region":"Southern Sub−Saharan Africa","sdi":0.5083,"rate":318.9},{"region":"Southern Sub−Saharan Africa","sdi":0.5134,"rate":323.5},{"region":"Southern Sub−Saharan Africa","sdi":0.5189,"rate":337.5},{"region":"Southern Sub−Saharan Africa","sdi":0.524,"rate":332.9},{"region":"Southern Sub−Saharan Africa","sdi":0.529,"rate":350.6},{"region":"Southern Sub−Saharan Africa","sdi":0.5345,"rate":362.2},{"region":"Southern Sub−Saharan Africa","sdi":0.5396,"rate":390.6},{"region":"Southern Sub−Saharan Africa","sdi":0.5451,"rate":427.6},{"region":"Southern Sub−Saharan Africa","sdi":0.5501,"rate":446.2},{"region":"Southern Sub−Saharan Africa","sdi":0.5548,"rate":428.4},{"region":"Southern Sub−Saharan Africa","sdi":0.5592,"rate":444.3},{"region":"Southern Sub−Saharan Africa","sdi":0.5634,"rate":434.0},{"region":"Southern Sub−Saharan Africa","sdi":0.5669,"rate":436.8},{"region":"Southern Sub−Saharan Africa","sdi":0.5701,"rate":441.0},{"region":"Southern Sub−Saharan Africa","sdi":0.5736,"rate":434.0},{"region":"Southern Sub−Saharan Africa","sdi":0.5771,"rate":428.4},{"region":"Southern Sub−Saharan Africa","sdi":0.5815,"rate":423.8},{"region":"Southern Sub−Saharan Africa","sdi":0.5869,"rate":407.4},{"region":"Southern Sub−Saharan Africa","sdi":0.5912,"rate":399.0},{"region":"Southern Sub−Saharan Africa","sdi":0.5956,"rate":390.6},{"region":"Southern Sub−Saharan Africa","sdi":0.5998,"rate":378.0},{"region":"Southern Sub−Saharan Africa","sdi":0.6041,"rate":361.8},{"region":"Southern Sub−Saharan Africa","sdi":0.6088,"rate":349.2},{"region":"Southern Sub−Saharan Africa","sdi":0.6139,"rate":338.9},{"region":"Southern Sub−Saharan Africa","sdi":0.6185,"rate":334.7},{"region":"Southern Sub−Saharan Africa","sdi":0.6229,"rate":332.9},{"region":"Southern Sub−Saharan Africa","sdi":0.6272,"rate":327.3},{"region":"Southern Sub−Saharan Africa","sdi":0.6307,"rate":315.1},{"region":"Southern Sub−Saharan Africa","sdi":0.6343,"rate":309.5},{"region":"Southern Sub−Saharan Africa","sdi":0.6373,"rate":298.9},{"region":"Southern Sub−Saharan Africa","sdi":0.6408,"rate":300.3},{"region":"Southern Sub−Saharan Africa","sdi":0.6436,"rate":297.9}
]
},
"layer":[
{"data":{"name":"pts"},
 "mark":{"type":"point","strokeWidth":0.8,"opacity":1,"size":19},
 "encoding":{
  "x":{"field":"sdi","type":"quantitative","scale":{"domain":[0.2018,0.9091],"nice":false,"zero":false},"axis":{"values":[0.4,0.6,0.8],"format":".1f","title":"SDI","titlePadding":3}},
  "y":{"field":"rate","type":"quantitative","scale":{"domain":[0,670],"nice":false},"axis":{"values":[200,400,600],"format":"d","title":"DALYs (Disability−Adjusted Life Years) Rate per 100,000 population","titlePadding":3,"titleY":229}},
  "stroke":{"field":"region","type":"nominal","legend":{"title":null},"scale":{"domain":["High−income Asia Pacific","High−income North America","Western Europe","Australasia","Andean Latin America","Tropical Latin America","Central Latin America","Southern Latin America","Caribbean","Central Europe","Eastern Europe","Central Asia","North Africa and Middle East","South Asia","Southeast Asia","East Asia","Oceania","Western Sub−Saharan Africa","Eastern Sub−Saharan Africa","Central Sub−Saharan Africa","Southern Sub−Saharan Africa"],"range":["#5EC4D8","#34B39B","#5A6BA3","#EFA48F","#8A96CA","#9DD6C2","#E52A2E","#9A8372","#4B5BA7","#F0201F","#2E9B5C","#7D3F97","#1D9E95","#D13F5B","#8586CB","#C8438B","#9E9E9E","#D3705E","#3D91CE","#F0A04C","#3EA36C"]}},
  "fill":{"field":"region","type":"nominal","legend":{"title":null},"scale":{"domain":["High−income Asia Pacific","High−income North America","Western Europe","Australasia","Andean Latin America","Tropical Latin America","Central Latin America","Southern Latin America","Caribbean","Central Europe","Eastern Europe","Central Asia","North Africa and Middle East","South Asia","Southeast Asia","East Asia","Oceania","Western Sub−Saharan Africa","Eastern Sub−Saharan Africa","Central Sub−Saharan Africa","Southern Sub−Saharan Africa"],"range":["transparent","transparent","transparent","transparent","transparent","#9DD6C2","transparent","#9A8372","#4B5BA7","transparent","#2E9B5C","#7D3F97","transparent","#D13F5B","#8586CB","#C8438B","transparent","#D3705E","#3D91CE","transparent","transparent"]}},
  "shape":{"field":"region","type":"nominal","legend":{"title":null},"scale":{"domain":["High−income Asia Pacific","High−income North America","Western Europe","Australasia","Andean Latin America","Tropical Latin America","Central Latin America","Southern Latin America","Caribbean","Central Europe","Eastern Europe","Central Asia","North Africa and Middle East","South Asia","Southeast Asia","East Asia","Oceania","Western Sub−Saharan Africa","Eastern Sub−Saharan Africa","Central Sub−Saharan Africa","Southern Sub−Saharan Africa"],"range":["triangle-up","M-1.2,0H1.2M0,-1.2V1.2","M-0.9,-0.9L0.9,0.9M-0.9,0.9L0.9,-0.9","diamond","triangle-down","square","M-1.2,0H1.2M0,-1.2V1.2M-0.85,-0.85L0.85,0.85M-0.85,0.85L0.85,-0.85","diamond","circle","M-1,-1H1V1H-1ZM-1,0H1M0,-1V1","square","square","M-1,-1H1V1H-1ZM-0.3,-0.3H0.3V0.3H-0.3Z","square","circle","triangle-up","M-1,0H1M0,-1V1","circle","circle","circle","square"]}}
 }},
{"data":{"name":"smooth"},"mark":{"type":"area","color":"#999999","opacity":0.4,"interpolate":"monotone"},"encoding":{"x":{"field":"sdi","type":"quantitative"},"y":{"field":"lo","type":"quantitative"},"y2":{"field":"hi"}}},
{"data":{"name":"smooth"},"mark":{"type":"line","color":"#8DA6DD","strokeWidth":3,"interpolate":"monotone"},"encoding":{"x":{"field":"sdi","type":"quantitative"},"y":{"field":"fit","type":"quantitative"}}}
]
}
